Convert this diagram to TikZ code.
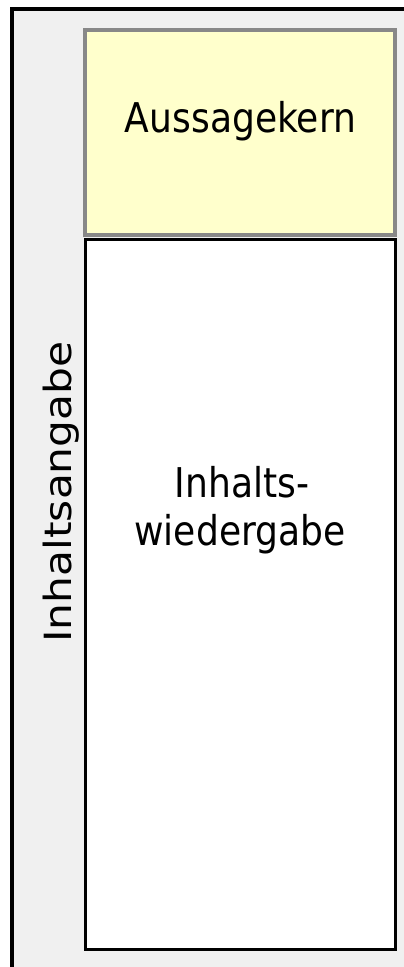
\documentclass[tikz,border=0pt]{standalone}
\usepackage{fontspec}
\setmainfont{DejaVu Sans}
\newfontfamily\narrowfont[FakeStretch=0.88]{DejaVu Sans}
\newfontfamily\widefont[FakeStretch=1.13]{DejaVu Sans}
\definecolor{bgGray}{HTML}{F0F0F0}
\definecolor{kernFill}{HTML}{FFFFCC}
\definecolor{kernBorder}{HTML}{888888}
\tikzset{
  boxtext/.style={font=\narrowfont\fontsize{41}{48}\selectfont, inner sep=0pt, anchor=base},
  sidetext/.style={font=\widefont\fontsize{37.5}{45}\selectfont, inner sep=0pt, anchor=base, rotate=90}
}
\begin{document}
\begin{tikzpicture}[x=1pt,y=-1pt]
\useasboundingbox (0,0) rectangle (404,967);
\clip (0,0) rectangle (404,967);
% outer frame (extends beyond right and bottom edge)
\draw[line width=4, fill=bgGray] (11.5,9) rectangle (430,1000);
% Aussagekern box
\draw[line width=4, draw=kernBorder, fill=kernFill] (85.3,30) rectangle (395.4,235);
% Inhaltswiedergabe box
\draw[line width=3, draw=black, fill=white] (85,239) rectangle (395,949.5);
% texts
\node[boxtext] (kern) at (240.5,132) {Aussagekern};
\node[boxtext] (wg1) at (242,497) {Inhalts-};
\node[boxtext] (wg2) at (240,545) {wiedergabe};
\node[sidetext] (side) at (71.7,492) {Inhaltsangabe};
\end{tikzpicture}
\end{document}
